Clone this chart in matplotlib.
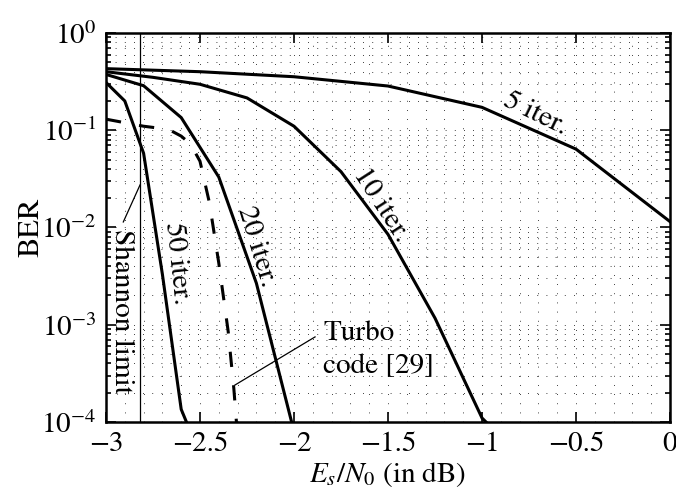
import matplotlib
matplotlib.use("Agg")
import numpy as np
from matplotlib import pyplot as plt
from matplotlib.ticker import MultipleLocator, LogLocator, FuncFormatter, NullFormatter

plt.rcParams['font.family'] = ['STIXGeneral', 'DejaVu Serif']
plt.rcParams['mathtext.fontset'] = 'stix'

# BER curves
x5 = [-3, -2.5, -2, -1.5, -1, -0.5, 0]
ber5 = [0.43, 0.40, 0.355, 0.285, 0.172, 0.064, 0.0115]

x10 = [-3, -2.75, -2.5, -2.25, -2, -1.75, -1.5, -1.25, -1, -0.75]
ber10 = [0.40, 0.35, 0.297, 0.215, 0.11, 0.0375, 0.0085, 0.00117, 1.1e-4, 3.6e-5]

x20 = [-3, -2.8, -2.6, -2.4, -2.2, -2.0]
ber20 = [0.375, 0.287, 0.135, 0.033, 0.00267, 8e-5]

x50 = [-3, -2.9, -2.8, -2.7, -2.6, -2.5]
ber50 = [0.31, 0.20, 0.058, 0.0033, 1.35e-4, 4.6e-5]

# turbo code reference [29]
xturbo = [-3, -2.8, -2.7, -2.65, -2.6, -2.55, -2.5, -2.45, -2.4, -2.35, -2.32, -2.3]
berturbo = [0.13, 0.11, 0.104, 0.098, 0.087, 0.072, 0.048, 0.018, 0.0043, 8.5e-4, 2.2e-4, 7e-5]

shannon = -2.82

fig = plt.figure(figsize=(6.76, 4.90), dpi=100)
ax = fig.add_axes([106/676, 1 - 422/490, 564/676, 389/490])

lw = 2.2
ax.semilogy(x5, ber5, 'k', linewidth=lw)
ax.semilogy(x10, ber10, 'k', linewidth=lw)
ax.semilogy(x20, ber20, 'k', linewidth=lw)
ax.semilogy(x50, ber50, 'k', linewidth=lw)
ax.semilogy(xturbo, berturbo, 'k', linewidth=lw, dashes=(5, 6))
ax.axvline(shannon, color='k', linewidth=0.9)

ax.set_xlim(-3, 0)
ax.set_ylim(1e-4, 1)

# ticks and grid, MATLAB style
ax.xaxis.set_major_locator(MultipleLocator(0.5))
ax.xaxis.set_minor_locator(MultipleLocator(0.1))
ax.xaxis.set_major_formatter(FuncFormatter(lambda v, p: ('%g' % v).replace('-', '\u2212')))
ax.yaxis.set_major_locator(LogLocator(base=10, numticks=10))
ax.yaxis.set_minor_locator(LogLocator(base=10, subs=np.arange(2, 10), numticks=10))
ax.yaxis.set_minor_formatter(NullFormatter())
ax.yaxis.set_major_formatter(FuncFormatter(lambda v, p: r'$10^{%d}$' % round(np.log10(v))))
ax.tick_params(which='both', direction='in', top=True, right=True, labelsize=21, width=1.2)
ax.tick_params(which='major', length=7, pad=7)
ax.tick_params(axis='y', which='minor', length=3.5)
ax.tick_params(axis='x', which='minor', length=0)
ax.grid(True, which='both', color='k', linewidth=0.6, linestyle=(0, (1, 10)))
for s in ax.spines.values():
    s.set_linewidth(1.8)

ax.set_xlabel(r'$E_s/N_0$ (in dB)', fontsize=21, labelpad=2)
ax.set_ylabel('BER', fontsize=22, labelpad=-3)

# curve labels
fs = 21
ax.text(-0.718, 0.147, '5 iter.', fontsize=fs, rotation=-26, ha='center', va='center')
ax.text(-1.539, 0.017, '10 iter.', fontsize=fs, rotation=-57, ha='center', va='center')
ax.text(-2.198, 0.00635, '20 iter.', fontsize=fs, rotation=-73, ha='center', va='center')
ax.text(-2.622, 0.0043, '50 iter.', fontsize=fs, rotation=-84, ha='center', va='center')
ax.text(-2.917, 0.00138, 'Shannon limit', fontsize=fs, rotation=-90, ha='center', va='center')
ax.plot([-2.908, -2.819], [0.0114, 0.0274], 'k', linewidth=0.9)
ax.text(-1.846, 5.5e-4, 'Turbo\ncode [29]', fontsize=fs, ha='left', va='center', linespacing=1.45)
ax.plot([-1.888, -2.314], [7.5e-4, 2.4e-4], 'k', linewidth=0.9)

plt.savefig("out.png", dpi=100)
